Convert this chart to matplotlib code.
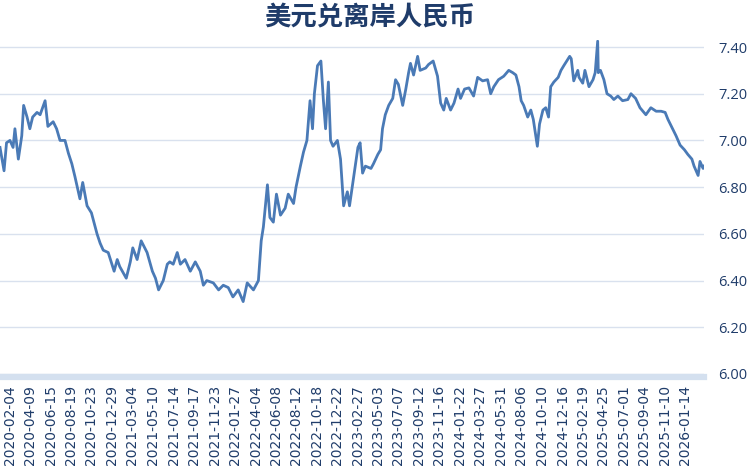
import matplotlib
matplotlib.use("Agg")
import matplotlib.pyplot as plt
import matplotlib.dates as mdates
import pandas as pd

dates = [
    "2020-01-03", "2020-01-16", "2020-01-24", "2020-02-04", "2020-02-14", "2020-02-20",
    "2020-03-02", "2020-03-13", "2020-03-19", "2020-03-30", "2020-04-08", "2020-04-17",
    "2020-05-01", "2020-05-11", "2020-05-27", "2020-06-05", "2020-06-22", "2020-07-03",
    "2020-07-14", "2020-07-30", "2020-08-10", "2020-08-21", "2020-08-31", "2020-09-16",
    "2020-09-25", "2020-10-09", "2020-10-23", "2020-11-02", "2020-11-10", "2020-11-20",
    "2020-11-30", "2020-12-16", "2021-01-04", "2021-01-14", "2021-01-22", "2021-02-12",
    "2021-02-25", "2021-03-05", "2021-03-19", "2021-04-01", "2021-04-20", "2021-05-07",
    "2021-05-17", "2021-05-27", "2021-06-11", "2021-06-24", "2021-07-02", "2021-07-13",
    "2021-07-26", "2021-08-05", "2021-08-20", "2021-09-06", "2021-09-22", "2021-10-08",
    "2021-10-18", "2021-10-29", "2021-11-19", "2021-12-06", "2021-12-21", "2022-01-06",
    "2022-01-21", "2022-02-07", "2022-02-23", "2022-03-08", "2022-03-28", "2022-04-13",
    "2022-04-22", "2022-04-29", "2022-05-12", "2022-05-20", "2022-05-31", "2022-06-10",
    "2022-06-23", "2022-07-08", "2022-07-18", "2022-08-04", "2022-08-12", "2022-08-26",
    "2022-09-05", "2022-09-16", "2022-09-26", "2022-10-04", "2022-10-10", "2022-10-20",
    "2022-10-31", "2022-11-08", "2022-11-15", "2022-11-24", "2022-12-01", "2022-12-09",
    "2022-12-23", "2023-01-02", "2023-01-12", "2023-01-24", "2023-01-31", "2023-02-13",
    "2023-02-27", "2023-03-06", "2023-03-14", "2023-03-23", "2023-04-10", "2023-04-18",
    "2023-05-02", "2023-05-11", "2023-05-17", "2023-05-26", "2023-06-06", "2023-06-19",
    "2023-06-28", "2023-07-07", "2023-07-21", "2023-07-31", "2023-08-09", "2023-08-15",
    "2023-08-25", "2023-09-07", "2023-09-15", "2023-10-03", "2023-10-12", "2023-10-27",
    "2023-11-10", "2023-11-20", "2023-11-30", "2023-12-08", "2023-12-22", "2024-01-02",
    "2024-01-15", "2024-01-23", "2024-02-05", "2024-02-19", "2024-03-05", "2024-03-18",
    "2024-04-03", "2024-04-19", "2024-04-29", "2024-05-09", "2024-05-24", "2024-06-10",
    "2024-06-26", "2024-07-09", "2024-07-19", "2024-07-29", "2024-08-05", "2024-08-13",
    "2024-08-26", "2024-09-05", "2024-09-13", "2024-09-26", "2024-10-03", "2024-10-14",
    "2024-10-23", "2024-11-01", "2024-11-08", "2024-11-18", "2024-12-02", "2024-12-11",
    "2024-12-20", "2025-01-08", "2025-01-13", "2025-01-21", "2025-02-03", "2025-02-07",
    "2025-02-19", "2025-02-26", "2025-03-11", "2025-03-24", "2025-03-31", "2025-04-08",
    "2025-04-10", "2025-04-17", "2025-04-28", "2025-05-08", "2025-05-20", "2025-05-30",
    "2025-06-12", "2025-06-27", "2025-07-14", "2025-07-24", "2025-08-08", "2025-08-22",
    "2025-09-10", "2025-09-26", "2025-10-13", "2025-10-29", "2025-11-11", "2025-11-20",
    "2025-12-05", "2025-12-16", "2025-12-29", "2026-01-12", "2026-01-23", "2026-02-05",
    "2026-02-12", "2026-02-25", "2026-03-03", "2026-03-13", "2026-03-16",
]

rates = [
    6.97, 6.87, 6.99, 7.00, 6.97, 7.05,
    6.92, 7.02, 7.15, 7.10, 7.05, 7.10,
    7.12, 7.11, 7.17, 7.06, 7.08, 7.05,
    7.00, 7.00, 6.945, 6.90, 6.845, 6.75,
    6.82, 6.72, 6.69, 6.64, 6.60, 6.56,
    6.53, 6.52, 6.44, 6.49, 6.46, 6.41,
    6.48, 6.54, 6.49, 6.57, 6.52, 6.44,
    6.41, 6.36, 6.40, 6.47, 6.48, 6.47,
    6.52, 6.47, 6.49, 6.44, 6.48, 6.44,
    6.38, 6.40, 6.39, 6.36, 6.38, 6.37,
    6.33, 6.36, 6.31, 6.39, 6.36, 6.40,
    6.57, 6.63, 6.81, 6.67, 6.65, 6.77,
    6.68, 6.71, 6.77, 6.73, 6.80, 6.89,
    6.95, 7.00, 7.17, 7.05, 7.20, 7.32,
    7.34, 7.17, 7.05, 7.25, 7.00, 6.975,
    7.00, 6.92, 6.72, 6.78, 6.72, 6.84,
    6.97, 6.99, 6.86, 6.89, 6.88, 6.90,
    6.94, 6.96, 7.05, 7.11, 7.15, 7.18,
    7.26, 7.24, 7.15, 7.22, 7.29, 7.33,
    7.28, 7.36, 7.30, 7.31, 7.325, 7.34,
    7.275, 7.16, 7.13, 7.18, 7.13, 7.16,
    7.22, 7.18, 7.22, 7.225, 7.19, 7.27,
    7.255, 7.26, 7.20, 7.23, 7.26, 7.275,
    7.30, 7.29, 7.28, 7.23, 7.17, 7.15,
    7.10, 7.13, 7.09, 6.975, 7.07, 7.13,
    7.14, 7.10, 7.23, 7.25, 7.27, 7.30,
    7.32, 7.36, 7.35, 7.255, 7.30, 7.27,
    7.245, 7.30, 7.23, 7.26, 7.29, 7.425,
    7.29, 7.30, 7.26, 7.20, 7.19, 7.175,
    7.19, 7.17, 7.175, 7.20, 7.18, 7.14,
    7.11, 7.14, 7.125, 7.125, 7.12, 7.09,
    7.05, 7.02, 6.98, 6.96, 6.94, 6.92,
    6.89, 6.85, 6.91, 6.88, 6.89,
]

tick_dates = [
    "2020-02-04", "2020-04-09", "2020-06-15", "2020-08-19", "2020-10-23", "2020-12-29",
    "2021-03-04", "2021-05-10", "2021-07-14", "2021-09-17", "2021-11-23", "2022-01-27",
    "2022-04-04", "2022-06-08", "2022-08-12", "2022-10-18", "2022-12-22", "2023-02-27",
    "2023-05-03", "2023-07-07", "2023-09-12", "2023-11-16", "2024-01-22", "2024-03-27",
    "2024-05-31", "2024-08-06", "2024-10-10", "2024-12-16", "2025-02-19", "2025-04-25",
    "2025-07-01", "2025-09-04", "2025-11-10", "2026-01-14",
]
y_ticks = [6.0, 6.2, 6.4, 6.6, 6.8, 7.0, 7.2, 7.4]

title = "美元兑离岸人民币"
navy = "#1f3c6a"

x = pd.to_datetime(dates)
ticks = pd.to_datetime(tick_dates)

fig = plt.figure(figsize=(7.5, 4.7), dpi=100)
ax = fig.add_axes([0.0, 0.2043, 0.9387, 0.7106])

ax.plot(x, rates, color="#4a7ab6", linewidth=2.0, solid_joinstyle="round")

ax.set_xlim(x[0], x[-1])
ax.set_ylim(6.0, 7.43)

ax.set_yticks(y_ticks)
ax.set_yticklabels([f"{v:.2f}" for v in y_ticks])
ax.yaxis.tick_right()
ax.tick_params(axis="y", length=0, pad=10, labelcolor=navy)
for lab in ax.get_yticklabels():
    lab.set_fontfamily("Open Sans")
    lab.set_fontsize(10.5)

ax.set_xticks(ticks)
ax.xaxis.set_major_formatter(mdates.DateFormatter("%Y-%m-%d"))
ax.tick_params(axis="x", length=0, pad=6, labelcolor=navy, labelrotation=90)
for lab in ax.get_xticklabels():
    lab.set_fontfamily("Roboto")
    lab.set_fontsize(11.5)

ax.grid(axis="y", color="#d9e1ee", linewidth=1)
ax.set_axisbelow(True)
for side in ["top", "right", "left"]:
    ax.spines[side].set_visible(False)
ax.spines["bottom"].set_color("#d4e0ef")
ax.spines["bottom"].set_linewidth(4.5)
ax.spines["bottom"].set_position(("outward", 2))

fig.text(370 / 750, 1 - 17 / 470, title, ha="center", va="center",
         fontsize=19, fontweight="bold", color=navy,
         family=["Noto Sans CJK SC", "DejaVu Sans"])

fig.savefig("out.png", dpi=100, facecolor="white")
